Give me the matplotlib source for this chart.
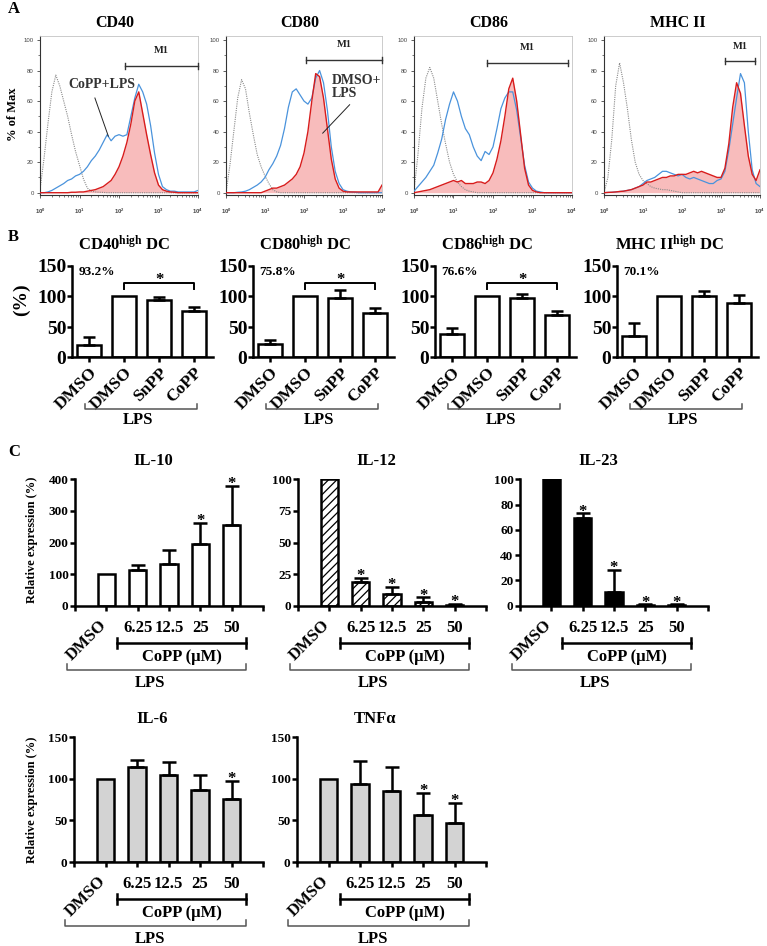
# -*- coding: utf-8 -*-
"""
DC maturation figure: A flow histograms, B % high DC, C cytokine expression
"""
import numpy as np
import matplotlib
matplotlib.use("Agg")
import matplotlib.pyplot as plt

plt.rcParams["font.family"] = ["Liberation Serif", "DejaVu Serif"]
plt.rcParams["font.weight"] = "bold"
plt.rcParams["mathtext.fontset"] = "custom"
plt.rcParams["mathtext.rm"] = "Liberation Serif:bold"
plt.rcParams["mathtext.bf"] = "Liberation Serif:bold"
plt.rcParams["mathtext.it"] = "Liberation Serif:bold"
plt.rcParams["mathtext.sf"] = "Liberation Sans"
plt.rcParams["hatch.linewidth"] = 0.9

W, H = 767, 946

# ---------------- A: histograms (log10 fluorescence grid, % of max) ----------------
log_fl = np.linspace(0, 4, 41)

cd40_iso = [2, 22, 45, 66, 77, 70, 60, 50, 38, 27, 18, 9, 3, 1, 0.5, 0.3, 0.2, 0, 0, 0,
            0, 0, 0, 0, 0, 0, 0, 0, 0, 0, 0, 0, 0, 0, 0, 0, 0, 0, 0, 0, 0]
cd40_copp = [0, 0, 0.5, 1.5, 3, 4.5, 6, 8, 9, 11, 12, 14, 17, 21, 24, 28, 33, 38, 34, 37,
             38, 37, 38, 50, 62, 71, 66, 58, 44, 26, 12, 4, 2, 1, 1, 0.5, 0.5, 0.5, 0.5, 0.5, 1.5]
cd40_dmso = [0, 0, 0, 0, 0, 0, 0, 0, 0.3, 0.3, 0.5, 0.5, 1, 1.5, 2, 3, 4, 6, 8, 12,
             17, 24, 33, 45, 60, 66, 52, 38, 25, 13, 5, 2, 1, 0.5, 0.3, 0, 0, 0, 0, 0, 0]

cd80_iso = [0, 18, 40, 62, 74, 68, 52, 38, 25, 17, 11, 6, 2, 0.5, 0, 0, 0, 0, 0, 0,
            0, 0, 0, 0, 0, 0, 0, 0, 0, 0, 0, 0, 0, 0, 0, 0, 0, 0, 0, 0, 0]
cd80_copp = [0, 0, 0, 0.3, 0.5, 1, 2, 3.5, 5, 7, 10, 15, 19, 24, 31, 42, 56, 66, 68, 64,
             60, 58, 62, 75, 80, 72, 54, 30, 14, 6, 2, 1, 0.5, 0.3, 0, 0, 0, 0, 0, 0, 0]
cd80_dmso = [0, 0, 0, 0, 0, 0, 0, 0, 0, 0, 1, 2, 3, 3, 4, 5, 7, 9, 12, 17,
             26, 40, 60, 78, 76, 62, 42, 22, 9, 3, 1, 0.5, 0.5, 0.5, 0.5, 0.5, 0.5, 0.5, 0.5, 0.5, 5]

cd86_iso = [1, 25, 55, 75, 82, 75, 60, 45, 32, 20, 12, 7, 4, 2, 1, 0.5, 0, 0, 0, 0,
            0, 0, 0, 0, 0, 0, 0, 0, 0, 0, 0, 0, 0, 0, 0, 0, 0, 0, 0, 0, 0]
cd86_copp = [1, 4, 7, 10, 14, 18, 26, 35, 48, 58, 66, 60, 50, 42, 38, 30, 24, 21, 27, 25,
             30, 42, 55, 62, 66, 66, 54, 36, 18, 7, 3, 1, 0.5, 0, 0, 0, 0, 0, 0, 0, 0]
cd86_dmso = [0, 0.5, 1, 1.5, 2, 3, 4, 5, 6, 7, 8, 7, 8, 6, 6, 6, 7, 7, 6, 8,
             13, 22, 34, 50, 68, 75, 60, 38, 16, 5, 1.5, 0.5, 0, 0, 0, 0, 0, 0, 0, 0, 0]

mhc_iso = [0, 10, 35, 70, 85, 72, 55, 35, 20, 12, 8, 6, 4, 3, 2.5, 2, 2, 1.5, 1, 0.5,
           0, 0, 0, 0, 0, 0, 0, 0, 0, 0, 0, 0, 0, 0, 0, 0, 0, 0, 0, 0, 0]
mhc_copp = [0, 0.2, 0.3, 0.5, 0.8, 1, 1.5, 2, 3, 4, 6, 8, 9, 10, 12, 14, 14, 13, 12, 11,
            12, 10, 9, 10, 9, 8, 7, 6, 6, 8, 9, 14, 28, 45, 62, 78, 72, 40, 15, 6, 4]
mhc_dmso = [0, 0.2, 0.3, 0.5, 0.8, 1, 1.5, 2, 3, 4, 5, 7, 7, 8, 9, 10, 10, 11, 11, 12,
            12, 12, 13, 14, 13, 14, 13, 12, 11, 10, 10, 16, 32, 56, 72, 65, 44, 24, 12, 8, 15]

hist_names = ["CD40", "CD80", "CD86", "MHC II"]
hist_iso = [cd40_iso, cd80_iso, cd86_iso, mhc_iso]
hist_copp = [cd40_copp, cd80_copp, cd86_copp, mhc_copp]
hist_dmso = [cd40_dmso, cd80_dmso, cd86_dmso, mhc_dmso]
m1_lo = [2.15, 2.06, 1.86, 3.10]
m1_hi = [4.00, 4.00, 3.89, 3.87]
m1_y = [83, 87, 85, 86]

# ---------------- B: % high DC ----------------
b_groups = ["DMSO", "DMSO", "SnPP", "CoPP"]
b_titles = ["CD40", "CD80", "CD86", "MHC II"]
cd40_high = [20, 100, 95, 76]
cd40_high_err = [13, 0, 4, 6]
cd80_high = [22, 100, 98, 73]
cd80_high_err = [7, 0, 12, 8]
cd86_high = [38, 100, 98, 69]
cd86_high_err = [11, 0, 6, 8]
mhc_high = [35, 100, 100, 89]
mhc_high_err = [21, 0, 9, 14]
b_pct = ["93.2%", "75.8%", "76.6%", "70.1%"]
b_sig = [True, True, True, False]

# ---------------- C: cytokines (relative expression %) ----------------
doses = ["DMSO", "6.25", "12.5", "25", "50"]
il10 = [100, 112, 133, 196, 256]
il10_err = [0, 16, 44, 66, 124]
il10_sig = [0, 0, 0, 1, 1]
il12 = [100, 19, 9.5, 3, 0.5]
il12_err = [0, 3, 5.5, 3.5, 0.7]
il12_sig = [0, 1, 1, 1, 1]
il23 = [100, 69, 11, 0.5, 0.5]
il23_err = [0, 4, 17, 0.5, 0.5]
il23_sig = [0, 1, 1, 1, 1]
il6 = [100, 114, 105, 86, 76]
il6_err = [0, 9, 15, 19, 21]
il6_sig = [0, 0, 0, 0, 1]
tnf = [100, 94, 85, 56, 47]
tnf_err = [0, 27, 29, 27, 24]
tnf_sig = [0, 0, 0, 1, 1]


def add_px_axes(fig, left, top, right, bottom):
    return fig.add_axes([left / W, 1 - bottom / H, (right - left) / W, (bottom - top) / H])


def ax_h(ax):
    return ax.get_position().height * H


def below(ax, dy):
    return -dy / ax_h(ax)


def ftext(fig, x, y, s, **kw):
    fig.text(x / W, 1 - y / H, s, **kw)


fig = plt.figure(figsize=(W / 100, H / 100), dpi=100)

# ---- A ----
ftext(fig, 8, 9, "A", fontsize=12, ha="left", va="center")
ftext(fig, 13, 114, "% of Max", fontsize=9, rotation=90, ha="center", va="center")
xfl = 10 ** log_fl
hist_left = [40, 226, 414, 604]
hist_right = [198, 382, 572, 760]
for i, name in enumerate(hist_names):
    ax = add_px_axes(fig, hist_left[i], 36, hist_right[i], 195)
    ax.set_xscale("log")
    ax.fill_between(xfl, hist_dmso[i], 0, color="#f8bcbc", lw=0, zorder=1)
    ax.plot(xfl, hist_iso[i], color="#8a8a8a", ls=(0, (1, 1)), lw=0.8, zorder=2)
    ax.plot(xfl, hist_copp[i], color="#4a93dc", lw=0.9, zorder=3)
    ax.plot(xfl, hist_dmso[i], color="#d81c1c", lw=1.0, zorder=4)
    ax.set_xlim(1, 1e4)
    ax.set_ylim(-1.5, 102.6)
    ax.set_yticks([0, 20, 40, 60, 80, 100])
    ax.set_yticks(np.arange(0, 101, 10), minor=True)
    ax.set_xticks([1, 10, 100, 1000, 10000])
    ax.set_xticklabels([r"$\mathsf{10^{%d}}$" % k for k in range(5)])
    ax.tick_params(labelsize=4.3, colors="#444444", length=2.5, width=0.6, pad=2)
    ax.tick_params(axis="x", pad=6)
    ax.tick_params(which="minor", length=1.4, width=0.5, colors="#444444")
    for lab in ax.get_yticklabels():
        lab.set_family("Liberation Sans")
        lab.set_weight("normal")
    for side in ["left", "bottom"]:
        ax.spines[side].set_color("#333333")
        ax.spines[side].set_linewidth(0.8)
    for side in ["top", "right"]:
        ax.spines[side].set_color("#c4c4c4")
        ax.spines[side].set_linewidth(0.6)
    ax.text(0.475, 1 + 13 / ax_h(ax), name, transform=ax.transAxes,
            ha="center", va="center", fontsize=11.5)
    # M1 gate
    lo, hi, yy = 10 ** m1_lo[i], 10 ** m1_hi[i], m1_y[i]
    ax.plot([lo, hi], [yy, yy], color="#333333", lw=1.0, clip_on=False, zorder=5)
    ax.plot([lo, lo], [yy - 2, yy + 2], color="#333333", lw=1.0, clip_on=False, zorder=5)
    ax.plot([hi, hi], [yy - 2, yy + 2], color="#333333", lw=1.0, clip_on=False, zorder=5)
    ax.text(10 ** ((m1_lo[i] + m1_hi[i]) / 2), yy + 10, "M1", ha="center", va="center",
            fontsize=7.5, color="#222222")
    if i == 0:
        ax.text(10 ** 1.56, 70.6, "CoPP+LPS", ha="center", va="center", fontsize=10,
                color="#333333")
        ax.plot([10 ** 1.39, 10 ** 1.73], [62, 37], color="#222222", lw=0.7, zorder=5)
    if i == 1:
        ax.text(10 ** 2.70, 69, "DMSO+\nLPS", ha="left", va="center", fontsize=10,
                color="#333333", linespacing=1.0)
        ax.plot([10 ** 3.17, 10 ** 2.48], [57.6, 39], color="#222222", lw=0.7, zorder=5)

# ---- B ----
ftext(fig, 8, 237, "B", fontsize=12, ha="left", va="center")
ftext(fig, 21, 300, "(%)", fontsize=14, rotation=90, ha="center", va="center")
b_vals = [cd40_high, cd80_high, cd86_high, mhc_high]
b_errs = [cd40_high_err, cd80_high_err, cd86_high_err, mhc_high_err]
b_left = [72, 253, 435, 617]
for i in range(4):
    ax = add_px_axes(fig, b_left[i], 266, b_left[i] + 141, 357.5)
    x = np.arange(4)
    v = np.array(b_vals[i], float)
    e = np.array(b_errs[i], float)
    ax.bar(x, v, width=0.68, color="white", edgecolor="black", linewidth=1.8, zorder=2)
    m = e > 0
    ax.errorbar(x[m], v[m], yerr=[np.zeros(m.sum()), e[m]], fmt="none", ecolor="black",
                elinewidth=1.8, capsize=4.3, capthick=1.8, zorder=3)
    ax.set_xlim(-0.49, 3.54)
    ax.set_ylim(0, 150)
    ax.set_yticks([0, 50, 100, 150])
    ax.set_xticks(x)
    ax.set_xticklabels(b_groups, rotation=45, ha="right", rotation_mode="anchor", fontsize=12.5)
    ax.tick_params(axis="y", labelsize=14, length=3.6, width=1.8, pad=0.5)
    ax.tick_params(axis="x", length=3.6, width=1.8, pad=1.5)
    for side in ["top", "right"]:
        ax.spines[side].set_visible(False)
    for side in ["left", "bottom"]:
        ax.spines[side].set_linewidth(1.8)
    ax.text(0.37, 1 + 21 / ax_h(ax), b_titles[i] + r"$^{high}$ DC", transform=ax.transAxes,
            ha="center", va="center", fontsize=12)
    ax.text(0.045, 140, b_pct[i], ha="left", va="center", fontsize=9.5,
            transform=ax.get_yaxis_transform())
    if b_sig[i]:
        ax.plot([1, 1, 3, 3], [112, 122, 122, 112], color="black", lw=1.4, clip_on=False)
        ax.text(2, 121, "*", ha="center", va="baseline", fontsize=12)
    tr = ax.get_xaxis_transform()
    yb = below(ax, 52)
    yt = below(ax, 47)
    ax.plot([-0.12, -0.12, 3.08, 3.08], [yt, yb, yb, yt], color="#555555", lw=1.1,
            transform=tr, clip_on=False)
    ax.text(1.4, below(ax, 63), "LPS", transform=tr, ha="center", va="center", fontsize=12)

# ---- C ----
ftext(fig, 8, 452, "C", fontsize=12, ha="left", va="center")
c_panels = [
    ("IL-10", il10, il10_err, il10_sig, 400, 100, "white", None, (75, 479.3, 263, 605.7)),
    ("IL-12", il12, il12_err, il12_sig, 100, 25, "white", "////", (298, 479.3, 486, 605.7)),
    ("IL-23", il23, il23_err, il23_sig, 100, 20, "black", None, (520, 479.3, 708, 605.7)),
    ("IL-6", il6, il6_err, il6_sig, 150, 50, "#d3d3d3", None, (74, 737, 263, 862)),
    ("TNFα", tnf, tnf_err, tnf_sig, 150, 50, "#d3d3d3", None, (297, 737, 486, 862)),
]
for title, vals, errs, sig, ymax, ystep, face, hatch, box in c_panels:
    ax = add_px_axes(fig, *box)
    x = np.arange(len(vals))
    v = np.array(vals, float)
    e = np.array(errs, float)
    ax.bar(x, v, width=0.56, color=face, edgecolor="black", linewidth=1.8, hatch=hatch, zorder=2)
    m = e > 0
    ax.errorbar(x[m], v[m], yerr=[np.zeros(m.sum()), e[m]], fmt="none", ecolor="black",
                elinewidth=1.8, capsize=5, capthick=1.8, zorder=3)
    for k in range(len(vals)):
        if sig[k]:
            ax.annotate("*", (x[k], v[k] + e[k]), xytext=(0, -1.5), textcoords="offset points",
                        ha="center", va="baseline", fontsize=12)
    ax.set_xlim(-1, 5)
    ax.set_ylim(0, ymax)
    ax.set_yticks(np.arange(0, ymax + 1, ystep))
    ax.set_xticks(np.arange(-1, 6))
    ax.set_xticklabels([])
    ax.tick_params(axis="y", labelsize=9.5, length=3.6, width=1.8, pad=1)
    ax.tick_params(axis="x", length=3.6, width=1.8)
    for side in ["top", "right"]:
        ax.spines[side].set_visible(False)
    for side in ["left", "bottom"]:
        ax.spines[side].set_linewidth(1.8)
    ax.text(0.415, 1 + 18 / ax_h(ax), title, transform=ax.transAxes,
            ha="center", va="center", fontsize=12)
    tr = ax.get_xaxis_transform()
    ax.text(-0.25, below(ax, 11), doses[0], transform=tr, rotation=45, ha="right", va="top",
            rotation_mode="anchor", fontsize=12)
    for k in range(1, len(doses)):
        ax.text(k, below(ax, 22), doses[k], transform=tr, ha="center", va="center", fontsize=12)
    yb = below(ax, 37)
    ax.plot([0.35, 4.45], [yb, yb], color="black", lw=1.8, transform=tr, clip_on=False)
    for xe in (0.35, 4.45):
        ax.plot([xe, xe], [below(ax, 32), below(ax, 42)], color="black", lw=1.8,
                transform=tr, clip_on=False)
    ax.text(2.42, below(ax, 51), "CoPP (μM)", transform=tr, ha="center", va="center",
            fontsize=12)
    yb = below(ax, 64)
    yt = below(ax, 58)
    ax.plot([-1.27, -1.27, 4.45, 4.45], [yt, yb, yb, yt], color="#555555", lw=1.1,
            transform=tr, clip_on=False)
    ax.text(1.4, below(ax, 77), "LPS", transform=tr, ha="center", va="center", fontsize=12)

ftext(fig, 32, 540, "Relative expression (%)", fontsize=9, rotation=90, ha="center", va="center")
ftext(fig, 32, 800, "Relative expression (%)", fontsize=9, rotation=90, ha="center", va="center")

fig.savefig("out.png", dpi=100)
